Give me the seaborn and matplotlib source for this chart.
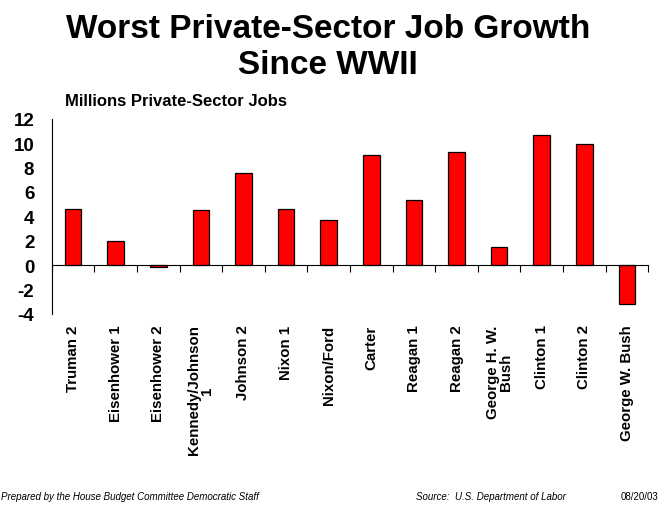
import matplotlib
matplotlib.use("Agg")
import matplotlib.pyplot as plt
import matplotlib.transforms as mtransforms
import seaborn as sns
import pandas as pd

# Private-sector job growth by presidential term (millions of jobs)
terms = [
    "Truman 2", "Eisenhower 1", "Eisenhower 2", "Kennedy/Johnson\n1",
    "Johnson 2", "Nixon 1", "Nixon/Ford", "Carter", "Reagan 1",
    "Reagan 2", "George H. W.\nBush", "Clinton 1", "Clinton 2",
    "George W. Bush",
]
jobs_millions = [4.6, 1.95, -0.15, 4.5, 7.55, 4.6, 3.7, 9.0, 5.3,
                 9.3, 1.45, 10.7, 9.9, -3.2]
y_ticks = [-4, -2, 0, 2, 4, 6, 8, 10, 12]

df = pd.DataFrame({"term": terms, "jobs": jobs_millions})

sns.set_style("white")
plt.rcParams["font.family"] = ["Liberation Sans", "DejaVu Sans"]
plt.rcParams["text.color"] = "black"
plt.rcParams["xtick.color"] = "black"
plt.rcParams["ytick.color"] = "black"

fig = plt.figure(figsize=(6.6, 5.06), dpi=100)
ax = fig.add_axes([0.0783, 0.378, 0.904, 0.385])

sns.barplot(data=df, x="term", y="jobs", color="#ff0000", saturation=1,
            width=0.39, edgecolor="black", linewidth=0.9, ax=ax)

ax.set_xlim(-0.5, len(terms) - 0.5)
ax.set_ylim(-4, 12)
ax.set_yticks(y_ticks)
ax.set_yticklabels([str(t) for t in y_ticks], fontsize=13.5,
                   fontweight="bold", color="black")
ax.tick_params(axis="y", direction="out", length=5.5, width=0.8, pad=7,
               color="black")

# x axis drawn at zero, with ticks between categories
ax.spines["bottom"].set_position(("data", 0))
ax.spines["top"].set_visible(False)
ax.spines["right"].set_visible(False)
for s in ("left", "bottom"):
    ax.spines[s].set_color("black")
    ax.spines[s].set_linewidth(0.8)
ax.set_xticks([i + 0.5 for i in range(-1, len(terms))])
ax.set_xticklabels([])
ax.tick_params(axis="x", direction="out", length=5, width=0.8, color="black",
               bottom=True)
ax.set_xlabel("")
ax.set_ylabel("")

# category labels beneath the plot area
trans = mtransforms.blended_transform_factory(ax.transData, ax.transAxes)
for i, name in enumerate(terms):
    ax.text(i, -0.055, name, transform=trans, rotation=90, ha="center",
            va="top", fontsize=10.8, fontweight="bold",
            multialignment="center", linespacing=0.9, color="black")

fig.text(0.497, 0.972, "Worst Private-Sector Job Growth\nSince WWII",
         ha="center", va="top", fontsize=24, fontweight="bold",
         linespacing=1.2, color="black")
fig.text(0.098, 0.800, "Millions Private-Sector Jobs", ha="left",
         va="center", fontsize=12, fontweight="bold", color="black")

fig.text(0.002, 0.018, "Prepared by the House Budget Committee Democratic Staff",
         ha="left", va="center", fontsize=7, style="italic", color="black")
fig.text(0.631, 0.018, "Source:  U.S. Department of Labor", ha="left",
         va="center", fontsize=7, style="italic", color="black")
fig.text(0.997, 0.018, "08/20/03", ha="right", va="center", fontsize=7,
         color="black")

fig.savefig("out.png", dpi=100, facecolor="white")
